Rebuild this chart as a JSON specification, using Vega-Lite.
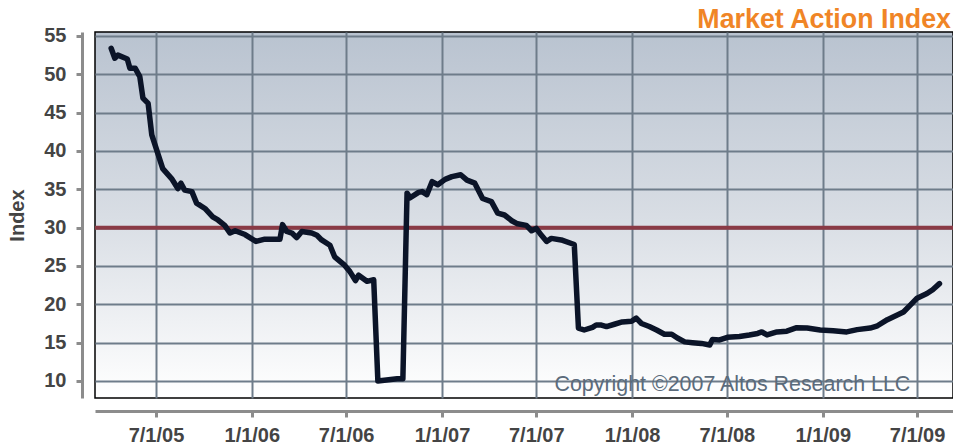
{
  "$schema": "https://vega.github.io/schema/vega-lite/v6.json",
  "width": 858,
  "height": 366,
  "autosize": {"type": "none"},
  "padding": {"left": 95, "top": 32, "right": 0, "bottom": 49},
  "background": "#ffffff",
  "title": {
    "text": "Market Action Index",
    "anchor": "end",
    "frame": "group",
    "orient": "top",
    "font": "Liberation Sans",
    "fontSize": 26.8,
    "fontWeight": "bold",
    "color": "#f08526",
    "offset": 4,
    "dx": -2,
    "dy": 12
  },
  "datasets": {
    "mai": [
      {"date": "2005-04-06", "value": 53.4},
      {"date": "2005-04-13", "value": 52.1},
      {"date": "2005-04-19", "value": 52.5},
      {"date": "2005-05-07", "value": 52.0},
      {"date": "2005-05-12", "value": 50.8},
      {"date": "2005-05-22", "value": 50.8},
      {"date": "2005-05-31", "value": 49.7},
      {"date": "2005-06-06", "value": 46.9},
      {"date": "2005-06-16", "value": 46.2},
      {"date": "2005-06-23", "value": 42.1},
      {"date": "2005-07-14", "value": 37.7},
      {"date": "2005-07-31", "value": 36.4},
      {"date": "2005-08-12", "value": 35.1},
      {"date": "2005-08-18", "value": 35.8},
      {"date": "2005-08-25", "value": 34.9},
      {"date": "2005-09-08", "value": 34.7},
      {"date": "2005-09-17", "value": 33.2},
      {"date": "2005-10-03", "value": 32.5},
      {"date": "2005-10-18", "value": 31.4},
      {"date": "2005-10-28", "value": 31.0},
      {"date": "2005-11-10", "value": 30.3},
      {"date": "2005-11-20", "value": 29.3},
      {"date": "2005-11-30", "value": 29.6},
      {"date": "2005-12-19", "value": 29.1},
      {"date": "2006-01-09", "value": 28.2},
      {"date": "2006-01-26", "value": 28.5},
      {"date": "2006-02-24", "value": 28.5},
      {"date": "2006-03-01", "value": 30.4},
      {"date": "2006-03-09", "value": 29.5},
      {"date": "2006-03-19", "value": 29.3},
      {"date": "2006-03-28", "value": 28.7},
      {"date": "2006-04-07", "value": 29.5},
      {"date": "2006-04-26", "value": 29.3},
      {"date": "2006-05-06", "value": 29.0},
      {"date": "2006-05-15", "value": 28.4},
      {"date": "2006-05-31", "value": 27.7},
      {"date": "2006-06-09", "value": 26.2},
      {"date": "2006-06-28", "value": 25.1},
      {"date": "2006-07-08", "value": 24.3},
      {"date": "2006-07-19", "value": 23.1},
      {"date": "2006-07-25", "value": 23.8},
      {"date": "2006-08-10", "value": 23.0},
      {"date": "2006-08-23", "value": 23.2},
      {"date": "2006-08-31", "value": 10.0},
      {"date": "2006-10-07", "value": 10.3},
      {"date": "2006-10-18", "value": 10.3},
      {"date": "2006-10-26", "value": 34.5},
      {"date": "2006-11-01", "value": 33.9},
      {"date": "2006-11-17", "value": 34.6},
      {"date": "2006-11-24", "value": 34.7},
      {"date": "2006-12-03", "value": 34.3},
      {"date": "2006-12-13", "value": 36.0},
      {"date": "2006-12-24", "value": 35.6},
      {"date": "2007-01-07", "value": 36.3},
      {"date": "2007-01-20", "value": 36.65},
      {"date": "2007-02-06", "value": 36.9},
      {"date": "2007-02-18", "value": 36.2},
      {"date": "2007-03-05", "value": 35.8},
      {"date": "2007-03-20", "value": 33.8},
      {"date": "2007-04-06", "value": 33.4},
      {"date": "2007-04-18", "value": 31.9},
      {"date": "2007-05-01", "value": 31.65},
      {"date": "2007-05-15", "value": 30.9},
      {"date": "2007-05-26", "value": 30.5},
      {"date": "2007-06-12", "value": 30.3},
      {"date": "2007-06-22", "value": 29.6},
      {"date": "2007-07-01", "value": 29.9},
      {"date": "2007-07-11", "value": 29.0},
      {"date": "2007-07-21", "value": 28.2},
      {"date": "2007-07-30", "value": 28.6},
      {"date": "2007-08-18", "value": 28.4},
      {"date": "2007-09-12", "value": 27.8},
      {"date": "2007-09-20", "value": 16.9},
      {"date": "2007-10-01", "value": 16.65},
      {"date": "2007-10-17", "value": 17.0},
      {"date": "2007-10-24", "value": 17.3},
      {"date": "2007-11-03", "value": 17.3},
      {"date": "2007-11-13", "value": 17.1},
      {"date": "2007-11-28", "value": 17.4},
      {"date": "2007-12-13", "value": 17.7},
      {"date": "2007-12-31", "value": 17.8},
      {"date": "2008-01-09", "value": 18.2},
      {"date": "2008-01-19", "value": 17.5},
      {"date": "2008-02-03", "value": 17.1},
      {"date": "2008-02-17", "value": 16.65},
      {"date": "2008-03-03", "value": 16.1},
      {"date": "2008-03-17", "value": 16.1},
      {"date": "2008-03-28", "value": 15.6},
      {"date": "2008-04-11", "value": 15.1},
      {"date": "2008-04-26", "value": 15.0},
      {"date": "2008-05-13", "value": 14.9},
      {"date": "2008-05-29", "value": 14.7},
      {"date": "2008-06-03", "value": 15.4},
      {"date": "2008-06-17", "value": 15.35},
      {"date": "2008-07-02", "value": 15.7},
      {"date": "2008-07-25", "value": 15.8},
      {"date": "2008-08-13", "value": 16.0},
      {"date": "2008-08-29", "value": 16.2},
      {"date": "2008-09-06", "value": 16.4},
      {"date": "2008-09-16", "value": 16.0},
      {"date": "2008-10-05", "value": 16.4},
      {"date": "2008-10-24", "value": 16.5},
      {"date": "2008-11-12", "value": 16.95},
      {"date": "2008-12-02", "value": 16.9},
      {"date": "2008-12-27", "value": 16.65},
      {"date": "2009-01-21", "value": 16.55},
      {"date": "2009-02-16", "value": 16.4},
      {"date": "2009-03-08", "value": 16.7},
      {"date": "2009-04-02", "value": 16.9},
      {"date": "2009-04-16", "value": 17.2},
      {"date": "2009-05-05", "value": 18.0},
      {"date": "2009-05-24", "value": 18.6},
      {"date": "2009-06-05", "value": 19.0},
      {"date": "2009-06-18", "value": 19.9},
      {"date": "2009-07-01", "value": 20.8},
      {"date": "2009-07-20", "value": 21.4},
      {"date": "2009-07-31", "value": 21.9},
      {"date": "2009-08-13", "value": 22.7}
    ],
    "single": [{"label": "Copyright ©2007 Altos Research LLC"}]
  },
  "layer": [
    {
      "data": {"name": "single"},
      "mark": {"type": "rule", "color": "#8a3a45", "strokeWidth": 4},
      "encoding": {"y": {"datum": 30, "type": "quantitative"}}
    },
    {
      "data": {"name": "mai"},
      "mark": {
        "type": "line",
        "color": "#0b1428",
        "strokeWidth": 5.5,
        "strokeJoin": "round",
        "strokeCap": "round"
      },
      "encoding": {
        "x": {
          "field": "date",
          "type": "temporal",
          "scale": {
            "type": "utc",
            "domain": [
              {"year": 2005, "month": 3, "date": 6, "utc": true},
              {"year": 2009, "month": 9, "date": 8, "utc": true}
            ],
            "nice": false
          },
          "axis": {
            "title": null,
            "offset": 13,
            "values": [
              {"year": 2005, "month": 7, "date": 1, "utc": true},
              {"year": 2006, "month": 1, "date": 1, "utc": true},
              {"year": 2006, "month": 7, "date": 1, "utc": true},
              {"year": 2007, "month": 1, "date": 1, "utc": true},
              {"year": 2007, "month": 7, "date": 1, "utc": true},
              {"year": 2008, "month": 1, "date": 1, "utc": true},
              {"year": 2008, "month": 7, "date": 1, "utc": true},
              {"year": 2009, "month": 1, "date": 1, "utc": true},
              {"year": 2009, "month": 7, "date": 1, "utc": true}
            ],
            "labelExpr": "utcFormat(datum.value, '%-m/%-d/%y')",
            "labelPadding": 8,
            "labelOverlap": false,
            "labelFlush": false
          }
        },
        "y": {
          "field": "value",
          "type": "quantitative",
          "scale": {"domain": [7.78, 55.52], "nice": false, "zero": false},
          "axis": {
            "title": "Index",
            "offset": 13,
            "values": [10, 15, 20, 25, 30, 35, 40, 45, 50, 55],
            "labelPadding": 10,
            "titlePadding": 16,
            "titleFont": "Liberation Sans",
            "titleFontSize": 20,
            "titleFontWeight": "bold",
            "titleColor": "#444444"
          }
        }
      }
    },
    {
      "data": {"name": "single"},
      "mark": {
        "type": "text",
        "font": "Liberation Sans",
        "fontSize": 21.4,
        "color": "#5b6b7b",
        "align": "right",
        "baseline": "alphabetic"
      },
      "encoding": {
        "text": {"field": "label"},
        "x": {"datum": {"year": 2009, "month": 6, "date": 18, "utc": true}, "type": "temporal"},
        "y": {"datum": 8.7, "type": "quantitative"}
      }
    }
  ],
  "config": {
    "view": {
      "fill": {
        "gradient": "linear",
        "x1": 0, "y1": 0, "x2": 0, "y2": 1,
        "stops": [
          {"offset": 0, "color": "#b9c3d0"},
          {"offset": 0.5, "color": "#d8dde4"},
          {"offset": 1, "color": "#ffffff"}
        ]
      },
      "stroke": "#000000",
      "strokeWidth": 1.5
    },
    "axis": {
      "labelFont": "Liberation Sans",
      "labelFontSize": 20,
      "labelFontWeight": "bold",
      "labelColor": "#444444",
      "domainColor": "#8c8c8c",
      "domainWidth": 3,
      "tickColor": "#8c8c8c",
      "tickWidth": 3,
      "tickSize": 6,
      "grid": true,
      "gridColor": "#6e7c8a",
      "gridWidth": 2,
      "gridOpacity": 1
    }
  }
}
